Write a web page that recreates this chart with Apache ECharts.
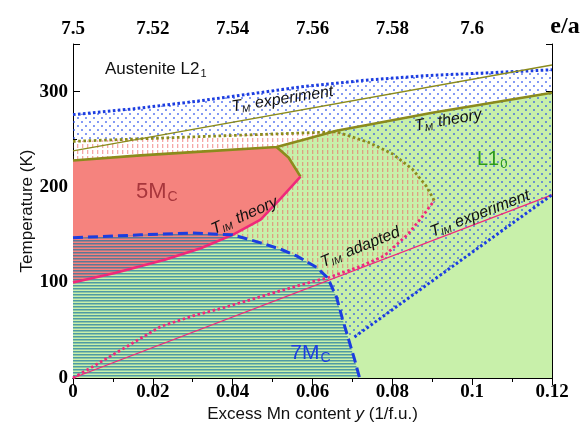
<!DOCTYPE html>
<html>
<head>
<meta charset="utf-8">
<script src="https://cdn.jsdelivr.net/npm/echarts@6/dist/echarts.min.js"></script>
<style>
  html, body { margin: 0; padding: 0; background: #fff; }
  #chart { width: 582px; height: 426px; }
</style>
</head>
<body>
<div id="chart"></div>
<script>
// Martensitic phase diagram of Ni2Mn(1+y)Ga(1-y): excess Mn content y (1/f.u.) vs temperature (K)

// Axis tick labels
const yTickLabels = ['0', '100', '200', '300'];
const eaTickLabels = ['7.5', '7.52', '7.54', '7.56', '7.58', '7.6', 'e/a'];

// Boundary curves, each as [y, T] pairs
const tmExperimentUpper = [[0, 276], [0.015, 282], [0.031, 290], [0.045, 298], [0.057, 305], [0.073, 312], [0.089, 317], [0.105, 320], [0.12, 323]];
const tmExperimentLower = [[0, 238], [0.12, 328]];
const tmTheory = [[0, 228], [0.016, 233], [0.031, 237], [0.051, 242], [0.058, 250], [0.066, 259], [0.09, 278], [0.12, 299]];
const austeniteEdge = [[0, 248], [0.032, 253], [0.066, 258], [0.074, 247], [0.08, 235], [0.085, 219], [0.0885, 201], [0.0905, 186]];
const mc5Edge = [[0.051, 242], [0.054, 231], [0.057, 211]];
const timTheory = [[0, 100], [0.0105, 110], [0.023, 124], [0.032, 136], [0.04, 150], [0.047, 166], [0.052, 188], [0.057, 211]];
const timAdapted = [[0, 0], [0.005, 12], [0.0135, 33], [0.022, 54], [0.03, 65], [0.038, 74], [0.05, 89], [0.06, 101], [0.0638, 105], [0.072, 117], [0.078, 128], [0.084, 151], [0.0875, 169], [0.0905, 186]];
const timExperiment = [[0, 0], [0.12, 192]];
const mc7Edge = [[0, 147], [0.017, 150], [0.03, 152], [0.04, 150], [0.0475, 141], [0.052, 135], [0.056, 128], [0.061, 116], [0.0638, 105], [0.066, 85], [0.0675, 62], [0.0688, 44], [0.0705, 20], [0.0718, 0]];
const l10Edge = [[0.0705, 43], [0.12, 192]];

// Region labels, anchored in data coordinates
const regionLabels = [
  { at: [0.008, 323], text: '{n|Austenite L2}{ns|1}', align: 'left', rot: 0 },
  { at: [0.0525, 292], text: '{i|T}{is|M}{i| experiment}', align: 'center', rot: 8.8 },
  { at: [0.094, 270], text: '{i|T}{is|M}{i| theory}', align: 'center', rot: 10 },
  { at: [0.105, 229], text: '{g|L1}{gs|0}', align: 'center', rot: 0 },
  { at: [0.021, 195], text: '{r|5M}{rs|C}', align: 'center', rot: 0 },
  { at: [0.043, 170], text: '{i|T}{is|IM}{i| theory}', align: 'center', rot: 24 },
  { at: [0.072, 137], text: '{i|T}{is|IM}{i| adapted}', align: 'center', rot: 22 },
  { at: [0.102, 172], text: '{i|T}{is|IM}{i| experiment}', align: 'center', rot: 21 },
  { at: [0.0595, 26], text: '{b|7M}{bs|C}', align: 'center', rot: 0 }
];

const SANS = 'Liberation Sans, Arial, sans-serif';
const SERIF = 'Liberation Serif, Times New Roman, serif';
const BLUE = '#1c3de0';
const PINK = '#f0287a';
const OLIVE = '#8b8b1c';
const GREEN_BG = '#c8f0aa';
const RED_BG = '#f5837e';

// zrender rich tokens take `fill` for the text colour
const richStyles = {
  n: { fontFamily: SANS, fontSize: 17, fill: '#111' },
  ns: { fontFamily: SANS, fontSize: 11, fill: '#111', padding: [9, 0, 0, 1] },
  i: { fontFamily: SANS, fontSize: 16, fontStyle: 'italic', fill: '#111' },
  is: { fontFamily: SANS, fontSize: 10, fontStyle: 'italic', fill: '#111', padding: [8, 1, 0, 0] },
  g: { fontFamily: SANS, fontSize: 20, fill: '#2c9a1a' },
  gs: { fontFamily: SANS, fontSize: 13, fill: '#2c9a1a', padding: [10, 0, 0, 1] },
  r: { fontFamily: SANS, fontSize: 22, fill: '#a8363c' },
  rs: { fontFamily: SANS, fontSize: 14, fill: '#a8363c', padding: [10, 0, 0, 1] },
  b: { fontFamily: SANS, fontSize: 21, fill: BLUE },
  bs: { fontFamily: SANS, fontSize: 14, fill: BLUE, padding: [10, 0, 0, 1] }
};

// Fill patterns
function makeTile(w, h, draw) {
  const c = document.createElement('canvas');
  c.width = w; c.height = h;
  draw(c.getContext('2d'));
  return { image: c, repeat: 'repeat' };
}
const dotFill = makeTile(8, 8, g => {
  g.fillStyle = 'rgba(35,75,235,0.8)';
  g.beginPath(); g.arc(2, 2, 0.95, 0, Math.PI * 2); g.fill();
  g.beginPath(); g.arc(6, 6, 0.95, 0, Math.PI * 2); g.fill();
});
const dashFill = makeTile(5, 6, g => {
  g.fillStyle = 'rgba(238,95,95,0.55)';
  g.fillRect(2, 0, 1.3, 4);
});
const stripeFill = makeTile(4, 3, g => {
  g.fillStyle = 'rgba(20,115,160,0.68)';
  g.fillRect(0, 0, 4, 1.5);
});

// Polygon outlines assembled from the boundary curves
function indexOfPoint(arr, p) {
  return arr.findIndex(q => q[0] === p[0] && q[1] === p[1]);
}
const triple = mc7Edge[indexOfPoint(mc7Edge, [0.0638, 105])];
const iTripleAd = indexOfPoint(timAdapted, triple);
const iTripleM7 = indexOfPoint(mc7Edge, triple);
const iL10M7 = indexOfPoint(mc7Edge, [0.0688, 44]);
const iKink = indexOfPoint(tmTheory, mc5Edge[0]);

const regions = {
  l10Base: () => tmTheory.concat([[0.12, 0], [0, 0]]),
  dotted: () => tmExperimentUpper
    .concat(l10Edge.slice().reverse())
    .concat(mc7Edge.slice(iTripleM7, iL10M7 + 1).reverse())
    .concat(timAdapted.slice(iTripleAd + 1))
    .concat(austeniteEdge.slice(0, -1).reverse()),
  adapted5M: () => austeniteEdge
    .concat(timAdapted.slice(iTripleAd, -1).reverse())
    .concat(mc7Edge.slice(0, iTripleM7).reverse()),
  mc5: () => tmTheory.slice(0, iKink + 1)
    .concat(mc5Edge.slice(1))
    .concat(timTheory.slice(0, -1).reverse()),
  mc7: () => mc7Edge.concat([[0, 0]])
};

function regionSeries(key, fill) {
  return {
    type: 'custom',
    silent: true,
    clip: true,
    data: [[0, 0]],
    renderItem: (params, api) => ({
      type: 'polygon',
      shape: { points: regions[key]().map(p => api.coord(p)) },
      style: { fill: fill, stroke: null }
    })
  };
}

function curve(data, color, width, type) {
  return {
    type: 'line',
    data: data,
    silent: true,
    symbol: 'none',
    showSymbol: false,
    clip: true,
    lineStyle: { color: color, width: width, type: type, cap: 'butt' },
    z: 3
  };
}

const labelSeries = {
  type: 'custom',
  silent: true,
  z: 5,
  data: regionLabels.map((l, i) => [l.at[0], l.at[1], i]),
  renderItem: (params, api) => {
    const l = regionLabels[api.value(2)];
    const p = api.coord([api.value(0), api.value(1)]);
    return {
      type: 'text',
      x: p[0], y: p[1],
      rotation: l.rot * Math.PI / 180,
      style: { text: l.text, rich: richStyles, align: l.align, verticalAlign: 'middle' }
    };
  }
};

const serifLabel = { fontFamily: SERIF, fontWeight: 'bold', fontSize: 19, color: '#000' };
const frameLine = { show: true, lineStyle: { color: '#000', width: 1 } };

const option = {
  animation: false,
  backgroundColor: '#fff',
  grid: { left: 73, right: 30, top: 44, bottom: 48, containLabel: false, outerBoundsMode: 'none' },
  xAxis: [
    {
      type: 'value', min: 0, max: 0.12, interval: 0.02, position: 'bottom',
      axisLine: frameLine,
      axisTick: { show: true, inside: true, length: 7, lineStyle: { color: '#000' } },
      minorTick: { show: true, splitNumber: 2, length: 4, lineStyle: { color: '#000' } },
      splitLine: { show: false },
      axisLabel: Object.assign({ margin: 5 }, serifLabel),
      name: 'Excess Mn content {it|y} (1/f.u.)',
      nameLocation: 'middle', nameGap: 28, nameMoveOverlap: false,
      nameTextStyle: { fontFamily: SANS, fontSize: 17, color: '#111', rich: { it: { fontFamily: SANS, fontSize: 17, fontStyle: 'italic', color: '#111' } } }
    },
    {
      type: 'value', min: 7.5, max: 7.62, interval: 0.02, position: 'top',
      axisLine: frameLine,
      axisTick: { show: true, inside: true, length: 7, lineStyle: { color: '#000' } },
      minorTick: { show: true, splitNumber: 2, length: 4, lineStyle: { color: '#000' } },
      splitLine: { show: false },
      axisLabel: Object.assign({
        margin: 5,
        formatter: (v, idx) => idx === eaTickLabels.length - 1 ? '{ea|' + eaTickLabels[idx] + '}' : eaTickLabels[idx],
        rich: { ea: { fontFamily: SERIF, fontWeight: 'bold', fontSize: 24, color: '#000', padding: [0, 0, 0, 26] } }
      }, serifLabel)
    }
  ],
  yAxis: [
    {
      type: 'value', min: 0, max: 350, interval: 100, position: 'left',
      axisLine: frameLine,
      axisTick: { show: true, inside: true, length: 7, lineStyle: { color: '#000' } },
      minorTick: { show: true, splitNumber: 2, length: 4, lineStyle: { color: '#000' } },
      splitLine: { show: false },
      axisLabel: Object.assign({ margin: 5, showMaxLabel: false, formatter: (v, idx) => yTickLabels[idx] || '' }, serifLabel),
      name: 'Temperature (K)', nameLocation: 'middle', nameGap: 37, nameRotate: 90, nameMoveOverlap: false,
      nameTextStyle: { fontFamily: SANS, fontSize: 17, color: '#111' }
    },
    {
      type: 'value', min: 0, max: 350, interval: 50, position: 'right',
      axisLine: frameLine,
      axisTick: { show: true, inside: true, length: 6, lineStyle: { color: '#000' } },
      splitLine: { show: false },
      axisLabel: { show: false }
    }
  ],
  series: [
    regionSeries('l10Base', GREEN_BG),
    regionSeries('dotted', dotFill),
    regionSeries('adapted5M', dashFill),
    regionSeries('mc5', RED_BG),
    regionSeries('mc7', stripeFill),
    curve(tmExperimentUpper, BLUE, 3, [2.6, 2.4]),
    curve(tmExperimentLower, OLIVE, 1.3, 'solid'),
    curve(austeniteEdge, OLIVE, 2.8, [2.6, 2.6]),
    curve(tmTheory, OLIVE, 2.6, 'solid'),
    curve(mc5Edge, OLIVE, 2.6, 'solid'),
    curve(timTheory, PINK, 2.6, 'solid'),
    curve(timAdapted, PINK, 2.8, [2.6, 2.6]),
    curve(timExperiment, PINK, 1.3, 'solid'),
    curve(mc7Edge, BLUE, 3, [10, 5]),
    curve(l10Edge, BLUE, 3, [2.6, 2.4]),
    labelSeries
  ]
};

const chart = echarts.init(document.getElementById('chart'), null, { renderer: 'canvas' });
chart.setOption(option);
</script>
</body>
</html>
